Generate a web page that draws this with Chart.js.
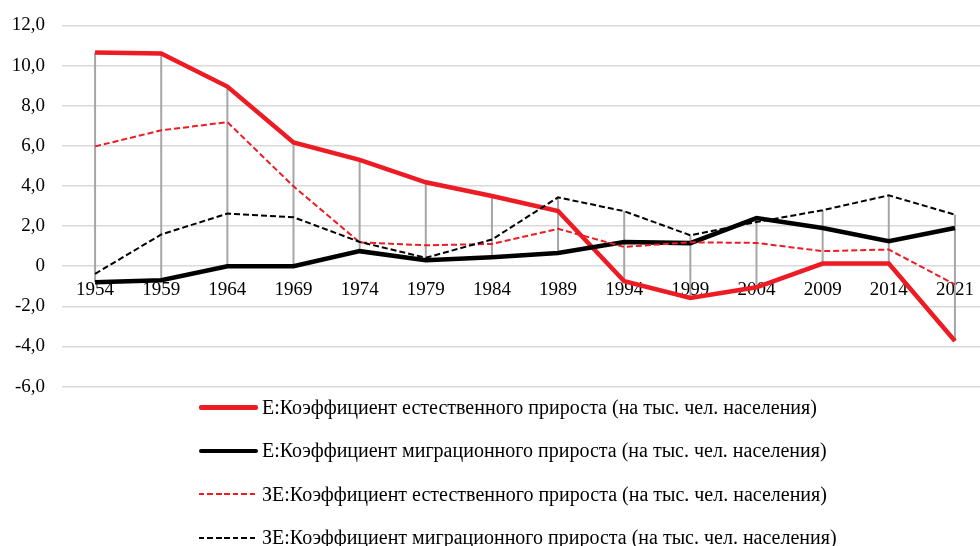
<!DOCTYPE html>
<html>
<head>
<meta charset="utf-8">
<script src="https://cdn.jsdelivr.net/npm/chart.js@4"></script>
<style>
  html, body { margin: 0; padding: 0; background: #fff; overflow: hidden; }
  #wrap { position: relative; width: 990px; height: 546px; }
  #chartBox { position: absolute; left: 0; top: -3px; width: 990px; height: 418px; }
  #legend { position: absolute; left: 199px; top: 386px; font-family: 'Liberation Serif', serif; font-size: 20px; color: #000; }
  .legend-item { height: 43.3px; display: flex; align-items: center; white-space: nowrap; }
  .legend-item .sample { width: 59px; margin-right: 4px; }
  .solid { height: 4.5px; border-radius: 2px; }
  .dash { height: 2px; }
</style>
</head>
<body>
<div id="wrap">
  <div id="chartBox"><canvas id="chart"></canvas></div>
  <div id="legend"></div>
</div>
<script>
Chart.defaults.font.family = "'Liberation Serif', serif";
Chart.defaults.color = '#000';

const RED = '#ED1C24';
const BLACK = '#000000';

// ---- data ----
const years = ['1954', '1959', '1964', '1969', '1974', '1979', '1984', '1989', '1994', '1999', '2004', '2009', '2014', '2021'];
const eNatural = [10.65, 10.6, 8.95, 6.17, 5.3, 4.18, 3.5, 2.75, -0.75, -1.58, -1.05, 0.13, 0.13, -3.73];
const eMigration = [-0.8, -0.7, 0, 0, 0.75, 0.3, 0.45, 0.66, 1.2, 1.15, 2.4, 1.9, 1.24, 1.9];
const zeNatural = [5.97, 6.77, 7.18, 3.98, 1.19, 1.04, 1.11, 1.86, 0.96, 1.19, 1.16, 0.75, 0.83, -0.91];
const zeMigration = [-0.38, 1.58, 2.62, 2.44, 1.21, 0.42, 1.33, 3.43, 2.74, 1.54, 2.2, 2.79, 3.53, 2.57];
const seriesNames = [
  'Е:Коэффициент естественного прироста (на тыс. чел. населения)',
  'Е:Коэффициент миграционного прироста (на тыс. чел. населения)',
  'ЗЕ:Коэффициент естественного прироста (на тыс. чел. населения)',
  'ЗЕ:Коэффициент миграционного прироста (на тыс. чел. населения)'
];

// ---- high-low drop lines ----
const hiLoLines = {
  id: 'hiLoLines',
  beforeDatasetsDraw(chart) {
    const { ctx, scales: { x, y } } = chart;
    ctx.save();
    ctx.strokeStyle = '#A6A6A6';
    ctx.lineWidth = 2;
    years.forEach((yr, i) => {
      const vals = chart.data.datasets.map(d => d.data[i]);
      const px = x.getPixelForValue(i);
      ctx.beginPath();
      ctx.moveTo(px, y.getPixelForValue(Math.max(...vals)));
      ctx.lineTo(px, y.getPixelForValue(Math.min(...vals)));
      ctx.stroke();
    });
    ctx.restore();
  }
};

const styles = [
  { color: RED, width: 4.5, dash: [] },
  { color: BLACK, width: 4.5, dash: [] },
  { color: RED, width: 2, dash: [6, 3] },
  { color: BLACK, width: 2, dash: [6, 3] }
];
const values = [eNatural, eMigration, zeNatural, zeMigration];

new Chart(document.getElementById('chart'), {
  type: 'line',
  data: {
    labels: years,
    datasets: values.map((v, k) => ({
      label: seriesNames[k],
      data: v,
      borderColor: styles[k].color,
      backgroundColor: styles[k].color,
      borderWidth: styles[k].width,
      borderDash: styles[k].dash,
      pointRadius: 0,
      tension: 0,
      order: 3 - k
    }))
  },
  options: {
    responsive: true,
    maintainAspectRatio: false,
    animation: false,
    layout: { padding: { top: 17, bottom: 14, left: 0, right: 2 } },
    scales: {
      x: {
        position: { y: 0 },
        offset: true,
        grid: { display: false },
        border: { display: false },
        ticks: { font: { size: 19 }, padding: 4, maxRotation: 0, autoSkip: false }
      },
      y: {
        min: -6,
        max: 12,
        afterFit(scale) { scale.width = 62; },
        grid: { color: '#D9D9D9', lineWidth: 1.5, drawTicks: false },
        border: { display: false },
        ticks: {
          stepSize: 2,
          padding: 17,
          font: { size: 19 },
          callback: v => v === 0 ? '0' : v.toFixed(1).replace('.', ',')
        }
      }
    },
    plugins: { legend: { display: false }, tooltip: { enabled: false } }
  },
  plugins: [hiLoLines]
});

// ---- legend ----
document.getElementById('legend').innerHTML = seriesNames.map((name, k) => {
  const s = styles[k];
  const bg = s.dash.length
    ? `repeating-linear-gradient(90deg, ${s.color} 0 5.5px, transparent 5.5px 8.5px)`
    : s.color;
  return `<div class="legend-item"><span class="sample ${s.dash.length ? 'dash' : 'solid'}" style="background:${bg}"></span>${name}</div>`;
}).join('');
</script>
</body>
</html>
